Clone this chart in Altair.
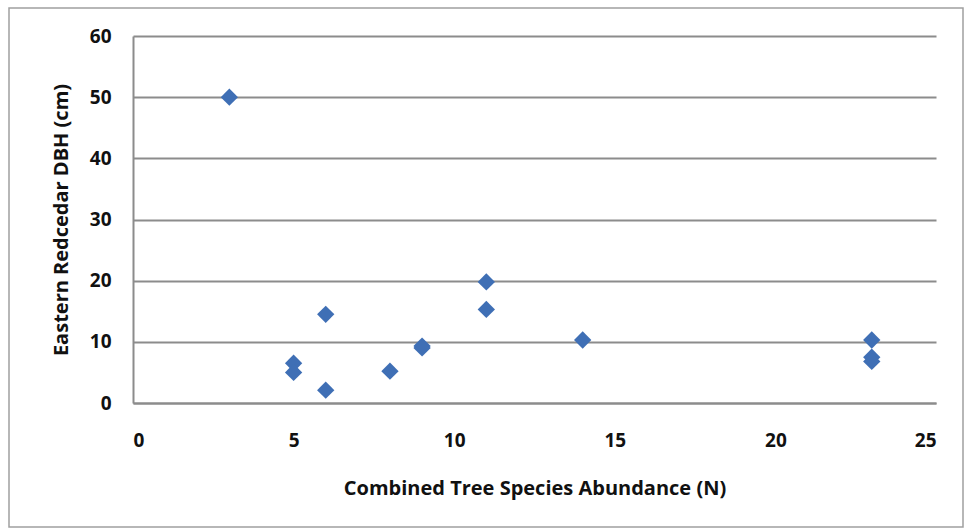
import altair as alt
import pandas as pd

abundance = [3, 5, 5, 6, 6, 8, 9, 9, 11, 11, 14, 23, 23, 23]
dbh = [50.0, 6.5, 5.0, 14.5, 2.1, 5.2, 9.3, 9.0, 19.8, 15.3, 10.3, 10.3, 7.5, 6.8]
x_ticks = [0, 5, 10, 15, 20, 25]
y_ticks = [0, 10, 20, 30, 40, 50, 60]

df = pd.DataFrame({"N": abundance, "DBH": dbh})

W, H = 803, 367
FONT = "Open Sans"

border = alt.Chart(pd.DataFrame({"k": [0]})).mark_rect(
    fill=None, stroke="#a0a0a0", strokeWidth=1.5
).encode(
    x=alt.value(-124), x2=alt.value(W + 27),
    y=alt.value(-28), y2=alt.value(H + 124),
)

points = alt.Chart(df).mark_point(
    shape="diamond", filled=True, size=300, color="#3f6fb5", opacity=1
).encode(
    x=alt.X("N:Q", scale=alt.Scale(domain=[0, 25], nice=False),
            axis=alt.Axis(values=x_ticks, title="Combined Tree Species Abundance (N)",
                          grid=False, ticks=False, labelPadding=28, titlePadding=28)),
    y=alt.Y("DBH:Q", scale=alt.Scale(domain=[0, 60], nice=False),
            axis=alt.Axis(values=y_ticks, title="Eastern Redcedar DBH (cm)",
                          grid=True, ticks=False, labelPadding=22, titlePadding=18)),
)

chart = alt.layer(border, points).properties(
    width=W, height=H,
    autosize=alt.AutoSizeParams(type="none"),
    padding={"left": 133, "top": 36, "right": 29, "bottom": 126},
).configure_view(stroke=None).configure_axis(
    domainColor="#8c8c8c", domainWidth=2, gridColor="#8c8c8c", gridWidth=2,
    labelFont=FONT, labelFontSize=19, labelColor="#111111", labelFontWeight="bold",
    titleFont=FONT, titleFontSize=20, titleColor="#111111", titleFontWeight="bold",
)

chart.save("out.html", embed_options={"renderer": "svg", "actions": False})
